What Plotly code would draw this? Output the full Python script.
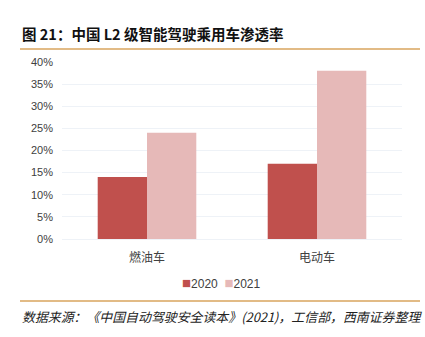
import plotly.graph_objects as go

categories = ["燃油车", "电动车"]
series_names = ["2020", "2021"]
values_2020 = [0.14, 0.17]
values_2021 = [0.24, 0.38]
series_colors = ["#C0504D", "#E6B9B8"]
tick_vals = [0, 0.05, 0.10, 0.15, 0.20, 0.25, 0.30, 0.35, 0.40]
tick_text = ["0%", "5%", "10%", "15%", "20%", "25%", "30%", "35%", "40%"]

title_text = "图 21：中国 L2 级智能驾驶乘用车渗透率"
source_text = "数据来源：《中国自动驾驶安全读本》(2021)，工信部，西南证券整理"

W, H = 425, 337
ML, MR, MT, MB = 62, 23, 62, 98
pw = W - ML - MR
ph = H - MT - MB


def px_x(x):
    return (x - ML) / pw


def px_y(y):
    return (H - MB - y) / ph


fig = go.Figure()
for name, vals, col in zip(series_names, [values_2020, values_2021], series_colors):
    fig.add_trace(go.Bar(
        x=categories, y=vals, name=name,
        marker=dict(color=col, line=dict(width=0)),
    ))

fig.update_layout(
    width=W, height=H,
    margin=dict(l=ML, r=MR, t=MT, b=MB),
    paper_bgcolor="white", plot_bgcolor="white",
    barmode="group", bargap=0.42, bargroupgap=0,
    font=dict(family="Noto Sans CJK SC, sans-serif", color="#404040", size=11),
    xaxis=dict(
        showgrid=False, showline=True, linecolor="#EEF2F7", linewidth=1,
        ticks="outside", ticklen=8, tickcolor="rgba(0,0,0,0)",
        tickfont=dict(size=12, color="#404040"),
    ),
    yaxis=dict(
        range=[0, 0.4], tickvals=tick_vals, ticktext=tick_text,
        showgrid=True, gridcolor="#EEF2F7", gridwidth=1,
        zeroline=False, ticks="", ticklen=0, ticklabelstandoff=8,
        tickfont=dict(family="Liberation Sans, Arial, sans-serif", size=11, color="#404040"),
    ),
    showlegend=False,
)

# compact legend row: coloured key + series name
legend_html = "&nbsp;&nbsp;".join(
    f"<span style='color:{c};font-size:15px'>■</span>{n}"
    for n, c in zip(series_names, series_colors)
)
fig.add_annotation(
    text=legend_html, xref="paper", yref="paper",
    x=px_x(221.5), y=px_y(282), xanchor="center", yanchor="middle", showarrow=False,
    font=dict(family="Liberation Sans, Arial, sans-serif", size=12, color="#404040"),
)

# header and source text
fig.add_annotation(
    text="<b>" + title_text + "</b>", xref="paper", yref="paper",
    x=px_x(20), y=px_y(33), xanchor="left", yanchor="middle", showarrow=False,
    font=dict(family="Noto Sans CJK SC, sans-serif", size=14.5, color="#111111"),
)
fig.add_annotation(
    text="<i>" + source_text + "</i>", xref="paper", yref="paper",
    x=px_x(20), y=px_y(316), xanchor="left", yanchor="middle", showarrow=False,
    font=dict(family="Noto Sans CJK SC, sans-serif", size=12.9, color="#222222"),
)

# separator rules
for yy in (49, 301):
    fig.add_shape(
        type="line", xref="paper", yref="paper",
        x0=px_x(20), x1=px_x(420), y0=px_y(yy), y1=px_y(yy),
        line=dict(color="#D9A55E", width=1.5),
    )

fig.write_html("out.html")
